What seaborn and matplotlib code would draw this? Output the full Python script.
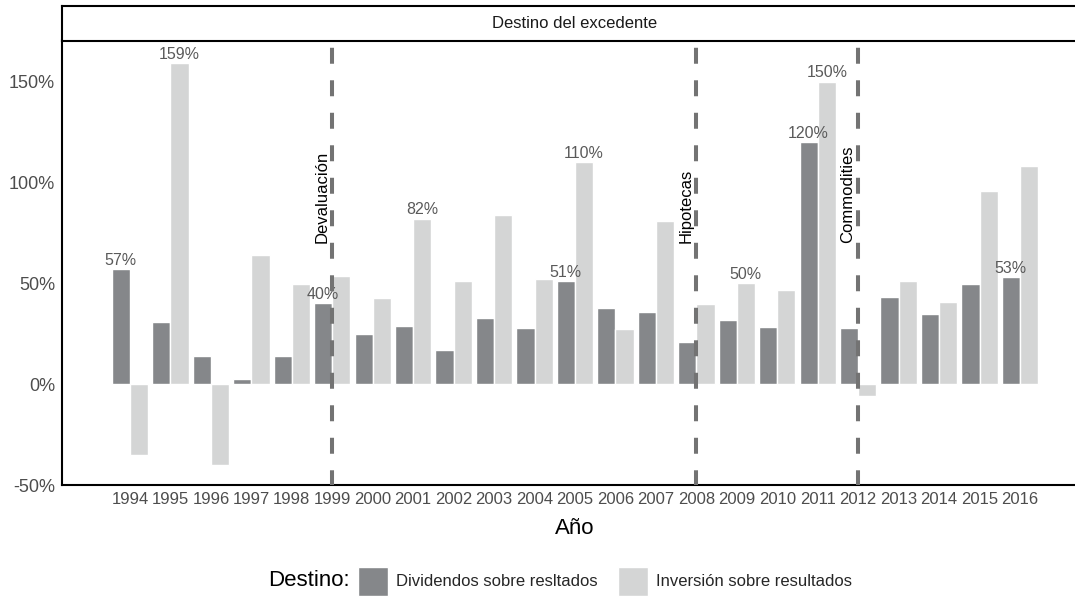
import matplotlib
matplotlib.use("Agg")
import matplotlib.pyplot as plt
import matplotlib.transforms as mtransforms
from matplotlib.patches import Patch
import numpy as np
import pandas as pd
import seaborn as sns

# Surplus destination per year (% of results)
years = list(range(1994, 2017))
dividendos = [57, 31, 14, 2.5, 14, 40, 25, 29, 17, 33, 28, 51, 38, 36, 21,
              32, 28.5, 120, 28, 43, 35, 49.5, 53]
inversion = [-35, 159, -40, 64, 49.5, 53.5, 42.5, 82, 51, 84, 52, 110, 27.5,
             81, 39.5, 50, 46.5, 150, -6, 51, 40.5, 96, 108]
series = ["Dividendos sobre resltados", "Inversión sobre resultados"]

# Years whose bars carry a value label
div_labeled = [1994, 1999, 2005, 2011, 2016]
inv_labeled = [1995, 2001, 2005, 2009, 2011]

# Reference events
event_years = [1999, 2008, 2012]
event_names = ["Devaluación", "Hipotecas", "Commodities"]

yticks = [-50, 0, 50, 100, 150]

dark = "#85878a"
light = "#d4d5d5"

sns.set_style("white")
plt.rcParams["font.family"] = ["Liberation Sans", "DejaVu Sans"]
plt.rcParams["lines.scale_dashes"] = False

df = pd.DataFrame({
    "anio": [str(y) for y in years] * 2,
    "valor": dividendos + inversion,
    "destino": [series[0]] * len(years) + [series[1]] * len(years),
})

W, H = 1075, 599
fig = plt.figure(figsize=(W / 100, H / 100), dpi=100)

px_l, px_r, px_top, px_bot = 62, 1088, 40.5, 485
ax = fig.add_axes([px_l / W, 1 - px_bot / H, (px_r - px_l) / W, (px_bot - px_top) / H])

sns.barplot(data=df, x="anio", y="valor", hue="destino",
            order=[str(y) for y in years], hue_order=series,
            palette=[dark, light], width=0.9, saturation=1,
            errorbar=None, legend=False, ax=ax, zorder=2)

ytop = 170.4
ax.set_ylim(-50, ytop)
ax.set_xlim(-1.68, len(years) - 1 + 1.68)

# value labels
label_sets = [div_labeled, inv_labeled]
value_sets = [dividendos, inversion]
for cont, labeled, vals in zip(ax.containers, label_sets, value_sets):
    labs = [f"{v:g}%" if y in labeled else "" for y, v in zip(years, vals)]
    ax.bar_label(cont, labels=labs, padding=1, fontsize=11.5, color="#5a5a5a")

# event markers
txt_tr = mtransforms.offset_copy(ax.transData, fig=fig, x=-3, y=0, units="dots")
for ey, name in zip(event_years, event_names):
    i = years.index(ey)
    ax.plot([i, i], [ytop, -50], color="#737373", lw=2.9,
            linestyle=(17.8, (11.5, 11.9)), dash_capstyle="butt", zorder=4)
    ax.text(i, 70, name, rotation=90, ha="right", va="bottom", fontsize=12,
            color="black", transform=txt_tr, zorder=5)

ax.set_yticks(yticks)
ax.set_yticklabels([f"{t}%" for t in yticks])
ax.tick_params(axis="both", length=3, width=1, color="#333333",
               labelcolor="#4d4d4d", labelsize=12, pad=2)
ax.tick_params(axis="y", labelsize=13)
ax.set_xlabel("Año", fontsize=16, color="black", labelpad=8)
ax.set_ylabel("")
for s in ["top", "right"]:
    ax.spines[s].set_visible(False)
for s in ["left", "bottom"]:
    ax.spines[s].set_color("black")
    ax.spines[s].set_linewidth(1.5)

# facet strip
st_top, st_bot = 6, 40.5
sax = fig.add_axes([px_l / W, 1 - st_bot / H, (px_r - px_l) / W, (st_bot - st_top) / H])
sax.set_xticks([])
sax.set_yticks([])
for s in sax.spines.values():
    s.set_color("black")
    s.set_linewidth(1.5)
sax.text(0.5, 0.5, "Destino del excedente", ha="center", va="center",
         fontsize=12, color="#1a1a1a", transform=sax.transAxes)

# legend
handles = [Patch(facecolor=dark), Patch(facecolor=light)]
fig.legend(handles, series, loc="center left",
           bbox_to_anchor=(358 / W, 1 - 581 / H), ncol=2, frameon=False,
           fontsize=12, handlelength=1.8, handleheight=2.3, handletextpad=0.5,
           columnspacing=1.2, borderaxespad=0, borderpad=0)
fig.text(350 / W, 1 - 581 / H, "Destino:", ha="right", va="center", fontsize=16,
         color="black")

fig.savefig("out.png", dpi=100)
